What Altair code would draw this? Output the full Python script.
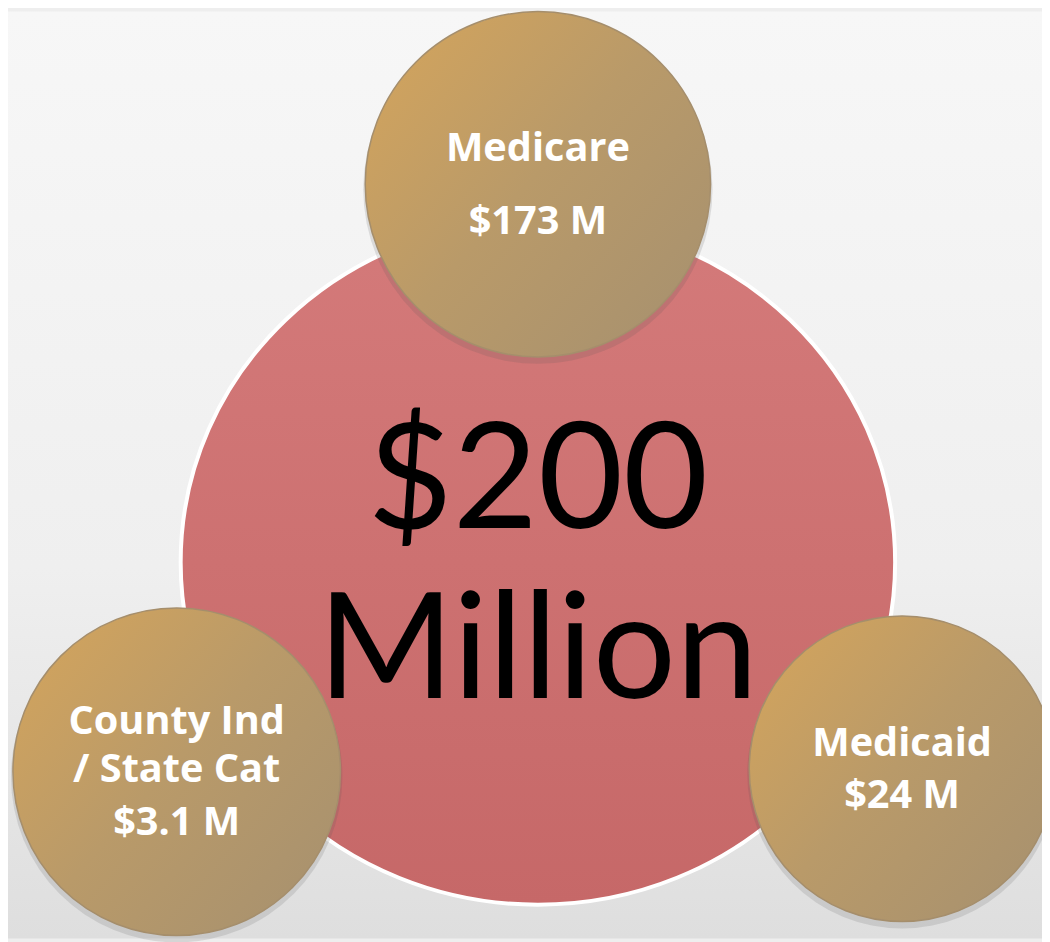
import altair as alt
import pandas as pd

# ---- content ----
total_lines = ["$200", "Million"]
sources = ["Medicare", "Medicaid", "County Ind / State Cat"]
source_lines = [["Medicare", "$173 M"], ["Medicaid", "$24 M"], ["County Ind", "/ State Cat", "$3.1 M"]]

# ---- layout (page pixel positions, mapped through linear scales) ----
big_center = (542, 563)
big_rx, big_ry = 360, 345
small_centers = [(542, 182), (909, 771), (178, 774)]
small_radii = [174, 154, 165]
line_baselines = [[159, 232], [758, 811], [736, 784, 838]]
total_baselines = [528, 700]

W, H = 1042, 934
xs = alt.Scale(domain=[8, 8 + W])
ys = alt.Scale(domain=[8, 8 + H], reverse=True)
X = lambda f: alt.X(f, type="quantitative", scale=xs, axis=None)
Y = lambda f: alt.Y(f, type="quantitative", scale=ys, axis=None)

bg_df = pd.DataFrame({"x": [8], "x2": [8 + W], "y": [8], "y2": [8 + H]})
bg = alt.Chart(bg_df).mark_rect(
    fill=alt.LinearGradient(gradient="linear", x1=0, y1=0, x2=0, y2=1,
                            stops=[alt.GradientStop(color="#f7f7f7", offset=0),
                                   alt.GradientStop(color="#efefef", offset=0.6),
                                   alt.GradientStop(color="#dedede", offset=1)])
).encode(x=X("x"), x2="x2", y=Y("y"), y2="y2")

# ellipse as a custom symbol path in the unit square; symbol size = (2*rx)^2
k = big_ry / big_rx
ellipse_path = f"M -1,0 A 1,{k:.4f} 0 1,1 1,0 A 1,{k:.4f} 0 1,1 -1,0 Z"
big_df = pd.DataFrame({"x": [big_center[0]], "y": [big_center[1]], "s": [(2 * big_rx) ** 2]})
big = alt.Chart(big_df).mark_point(
    shape=ellipse_path, filled=True, opacity=1,
    fill=alt.LinearGradient(gradient="linear", x1=0, y1=0, x2=0, y2=1,
                            stops=[alt.GradientStop(color="#d47a7a", offset=0),
                                   alt.GradientStop(color="#c66868", offset=1)]),
    stroke="white", strokeWidth=4,
).encode(x=X("x"), y=Y("y"), size=alt.Size("s:Q", scale=None, legend=None))

tot_df = pd.DataFrame({"t": total_lines, "x": [big_center[0]] * 2, "y": total_baselines})
tot = alt.Chart(tot_df).mark_text(
    font="Lato", fontSize=148, color="black", align="center", baseline="alphabetic"
).encode(x=X("x"), y=Y("y"), text="t:N")

sm_df = pd.DataFrame({
    "name": sources,
    "x": [c[0] for c in small_centers],
    "y": [c[1] for c in small_centers],
    "ys": [c[1] + 5 for c in small_centers],
    "s": [(2 * r) ** 2 for r in small_radii],
    "s2": [(2 * (r + 2)) ** 2 for r in small_radii],
})
shadow = alt.Chart(sm_df).mark_circle(opacity=0.16, fill="#555555").encode(
    x=X("x"), y=Y("ys"), size=alt.Size("s2:Q", scale=None, legend=None))
gold = alt.Chart(sm_df).mark_circle(
    opacity=1,
    fill=alt.LinearGradient(gradient="linear", x1=0.1, y1=0.1, x2=1, y2=0.9,
                            stops=[alt.GradientStop(color="#d0a35e", offset=0),
                                   alt.GradientStop(color="#b99a69", offset=0.45),
                                   alt.GradientStop(color="#a7916f", offset=1)]),
    stroke="#a58e6c", strokeWidth=1.5,
).encode(x=X("x"), y=Y("y"), size=alt.Size("s:Q", scale=None, legend=None))

rows = []
for name, lines, bases, c in zip(sources, source_lines, line_baselines, small_centers):
    for t, b in zip(lines, bases):
        rows.append({"t": t, "x": c[0], "y": b})
lab_df = pd.DataFrame(rows)
labels = alt.Chart(lab_df).mark_text(
    font="Open Sans", fontWeight="bold", fontSize=40, color="white", align="center", baseline="alphabetic"
).encode(x=X("x"), y=Y("y"), text="t:N")

chart = alt.layer(bg, big, tot, shadow, gold, labels).properties(
    width=W, height=H, padding=0, autosize=alt.AutoSizeParams(type="none"),
    background="#eeeeee",
).configure_view(stroke=None)

chart.save("out.html", embed_options={"renderer": "svg", "actions": False})
